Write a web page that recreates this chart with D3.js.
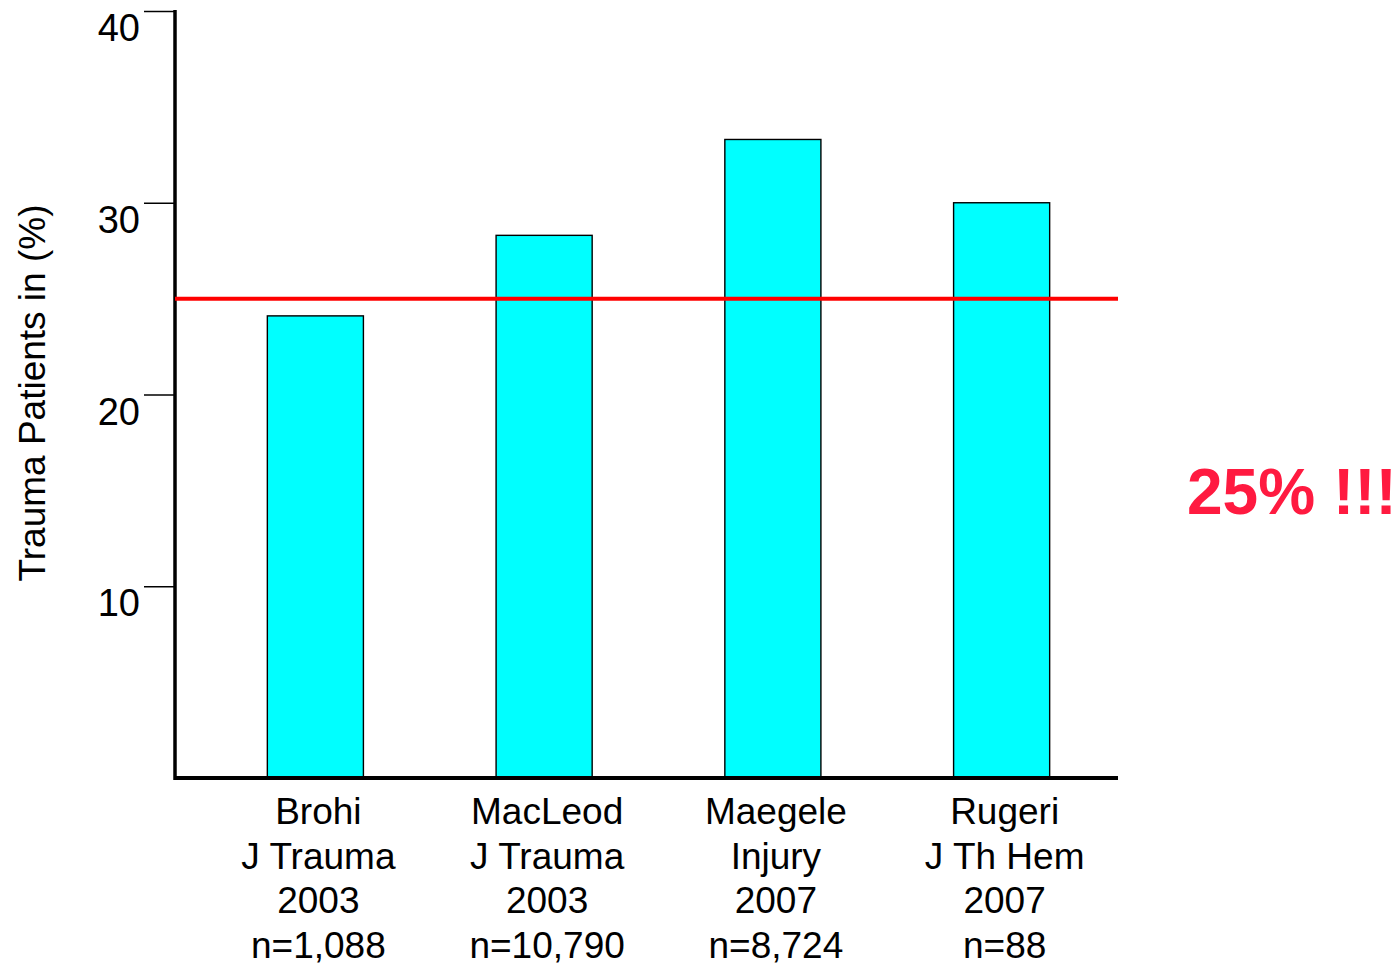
<!DOCTYPE html>
<html>
<head>
<meta charset="utf-8">
<script src="https://cdn.jsdelivr.net/npm/d3@7/dist/d3.min.js"></script>
<style>
  html, body { margin: 0; padding: 0; background: #fff; }
  svg { display: block; font-family: "Liberation Sans", Arial, sans-serif; }
</style>
</head>
<body>
<svg id="chart" width="1398" height="964"></svg>
<script>
// Share of trauma patients with coagulopathy, by study
const studies = ["Brohi", "MacLeod", "Maegele", "Rugeri"];
const journals = ["J Trauma", "J Trauma", "Injury", "J Th Hem"];
const years = ["2003", "2003", "2007", "2007"];
const sampleSizes = ["n=1,088", "n=10,790", "n=8,724", "n=88"];
const percentages = [24.1, 28.3, 33.3, 30.0];
const referenceLevel = 25;
const yTicks = [10, 20, 30, 40];

const svg = d3.select("#chart");
const plot = { left: 175, right: 1118, top: 11, bottom: 778 };

const y = d3.scaleLinear().domain([0, 40]).range([plot.bottom, plot.top]);
const x = d3.scaleBand()
  .domain(studies)
  .range([201, 1116])
  .paddingInner(0.58)
  .paddingOuter(0.29);

// Bars
svg.append("g").selectAll("rect")
  .data(studies)
  .join("rect")
  .attr("x", d => x(d))
  .attr("width", x.bandwidth())
  .attr("y", (d, i) => y(percentages[i]))
  .attr("height", (d, i) => y(0) - y(percentages[i]))
  .attr("fill", "#00ffff")
  .attr("stroke", "#000")
  .attr("stroke-width", 1.4);

// Y axis with ticks on the left, labels sitting just below each tick
const yAxis = d3.axisLeft(y).tickValues(yTicks).tickSize(31).tickFormat("");
const yg = svg.append("g").attr("transform", `translate(${plot.left},0)`).call(yAxis);
yg.select(".domain").remove();
yg.selectAll(".tick line").attr("stroke", "#000").attr("stroke-width", 1.5);
yg.selectAll(".tick").append("text")
  .attr("x", -35)
  .attr("y", 29.5)
  .attr("text-anchor", "end")
  .attr("fill", "#000")
  .style("font-size", "38px")
  .text(d => d);

// Axis lines
svg.append("line")
  .attr("x1", plot.left).attr("x2", plot.left)
  .attr("y1", plot.top - 1).attr("y2", plot.bottom + 2)
  .attr("stroke", "#000").attr("stroke-width", 3.5);
svg.append("line")
  .attr("x1", plot.left - 1).attr("x2", plot.right)
  .attr("y1", plot.bottom).attr("y2", plot.bottom)
  .attr("stroke", "#000").attr("stroke-width", 4);

// Reference line at 25%
svg.append("line")
  .attr("x1", plot.left).attr("x2", plot.right)
  .attr("y1", y(referenceLevel)).attr("y2", y(referenceLevel))
  .attr("stroke", "#ff0000").attr("stroke-width", 4);

// Category labels (four lines each)
const labelGroups = svg.append("g").selectAll("text")
  .data(studies)
  .join("text")
  .attr("text-anchor", "middle")
  .attr("fill", "#000")
  .style("font-size", "37px");
labelGroups.each(function(d, i) {
  const lines = [d, journals[i], years[i], sampleSizes[i]];
  const cx = x(d) + x.bandwidth() / 2 + 3;
  d3.select(this).selectAll("tspan")
    .data(lines)
    .join("tspan")
    .attr("x", cx)
    .attr("y", (l, j) => 824 + j * 44.5)
    .text(l => l);
});

// Y axis title
svg.append("text")
  .attr("transform", "translate(45,393) rotate(-90)")
  .attr("text-anchor", "middle")
  .attr("fill", "#000")
  .style("font-size", "37px")
  .text("Trauma Patients in (%)");

// Callout
svg.append("text")
  .attr("x", 1187)
  .attr("y", 514)
  .attr("fill", "#ff1a40")
  .style("font-size", "64px")
  .style("font-weight", "bold")
  .text("25% !!!");
</script>
</body>
</html>
